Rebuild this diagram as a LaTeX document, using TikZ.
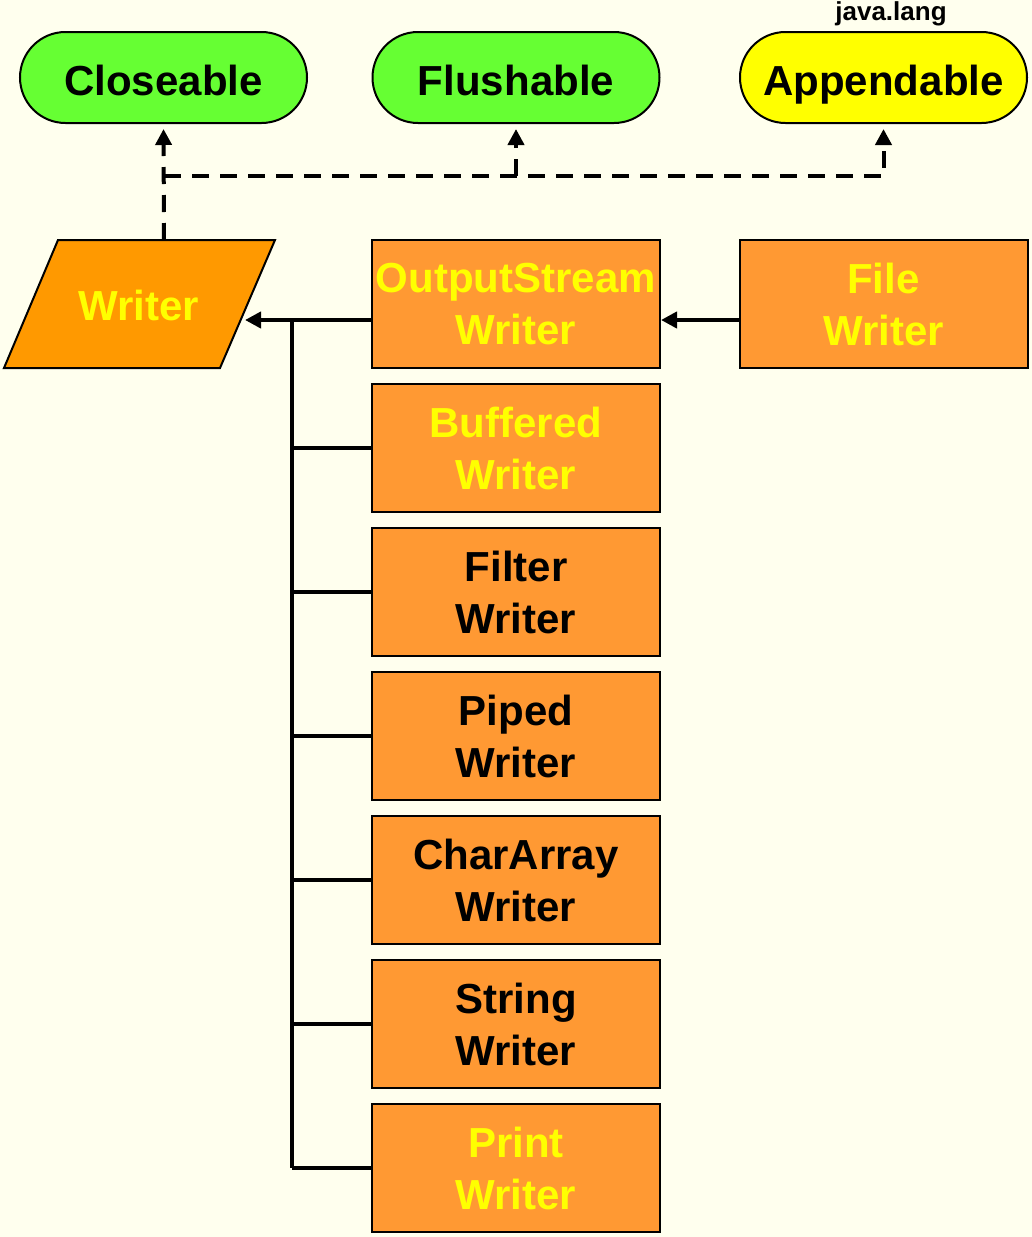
\documentclass[tikz,border=0pt]{standalone}
\usepackage{fontspec}
\setmainfont{Liberation Sans}
\usetikzlibrary{arrows.meta}
\definecolor{bgc}{HTML}{FFFFEE}
\definecolor{grn}{HTML}{66FF33}
\definecolor{ylw}{HTML}{FFFF00}
\definecolor{wrt}{HTML}{FF9900}
\definecolor{box}{HTML}{FF9933}
\tikzset{
  iface/.style={draw=black, line width=2pt, minimum width=287pt, minimum height=91pt,
    rounded corners=45.5pt, inner sep=0pt, text height=35pt, text depth=0pt,
    font=\fontsize{42}{50}\selectfont\bfseries},
  cls/.style={draw=black, fill=box, line width=2pt, minimum width=288pt, minimum height=128pt,
    inner sep=0pt, align=center, font=\fontsize{42}{52}\selectfont\bfseries},
  conn/.style={line width=4pt, draw=black},
  dconn/.style={line width=4pt, draw=black, dash pattern=on 17pt off 11pt},
  tip/.style={-{Triangle[length=16pt,width=16pt]}}
}
\begin{document}
\begin{tikzpicture}[x=1pt,y=-1pt]
\useasboundingbox (0,0) rectangle (1032,1237);
\fill[bgc] (0,0) rectangle (1032,1237);

% interfaces
\node[iface, fill=grn] (closeable) at (163.5,77.5) {Closeable};
\node[iface, fill=grn] (flushable) at (516,77.5) {Flushable};
\node[iface, fill=ylw] (appendable) at (883.5,77.5) {Appendable};
\node[font=\fontsize{26}{30}\selectfont\bfseries, inner sep=0pt, anchor=base] (javalang) at (891,20) {java.lang};

% Writer parallelogram
\draw[fill=wrt, line width=2pt] (58,240) -- (275,240) -- (220,368) -- (4,368) -- cycle;
\node[text=ylw, font=\fontsize{42}{51}\selectfont\bfseries, inner sep=0pt] (writer) at (139,305) {Writer};
\coordinate (writerN) at (164,240);
\coordinate (writerE) at (245,320);

% classes
\node[cls, text=ylw] (osw) at (516,304) {OutputStream\\Writer};
\node[cls, text=ylw] (file) at (883.5,304) {File\\Writer};
\node[cls, text=ylw] (buffered) at (516,448) {Buffered\\Writer};
\node[cls, text=black] (filter) at (516,592) {Filter\\Writer};
\node[cls, text=black] (piped) at (516,736) {Piped\\Writer};
\node[cls, text=black] (chararray) at (516,880) {CharArray\\Writer};
\node[cls, text=black] (string) at (516,1024) {String\\Writer};
\node[cls, text=ylw] (print) at (516,1168) {Print\\Writer};

% dashed implements connectors
\coordinate (junc) at (164,176);
\draw[dconn, tip, shorten >=5pt] (writerN) -- (closeable.south);
\draw[dconn, tip, shorten >=5pt] (junc) -| (appendable.south);
\draw[dconn, tip, shorten >=5pt] (flushable.south |- junc) -- (flushable.south);

% solid inheritance connectors
\coordinate (busT) at (292,320);
\draw[conn, tip] (osw.west |- writerE) -- (writerE);
\draw[conn, tip] (file.west |- writerE) -- (osw.east |- writerE);
\draw[conn] (busT) -- (busT |- 0,1168);
\foreach \n/\yy in {buffered/448, filter/592, piped/736, chararray/880, string/1024, print/1168}
  \draw[conn] (osw.west |- 0,\yy) -- (busT |- 0,\yy);
\end{tikzpicture}
\end{document}
